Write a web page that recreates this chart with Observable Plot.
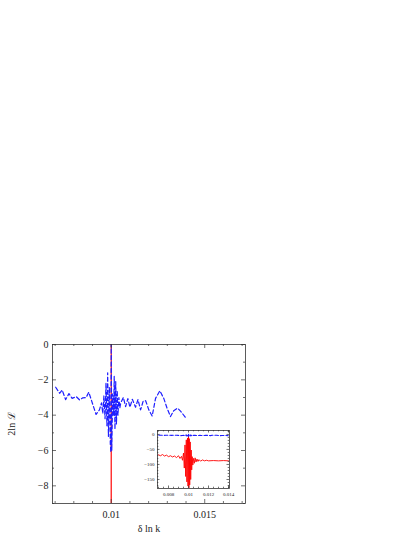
<!DOCTYPE html>
<html>
<head>
<meta charset="utf-8">
<script src="https://cdn.jsdelivr.net/npm/d3@7"></script>
<script src="https://cdn.jsdelivr.net/npm/@observablehq/plot@0.6"></script>
<style>
  html, body { margin: 0; padding: 0; background: #fff; }
  #c { position: relative; width: 415px; height: 537px; }
  #c svg { position: absolute; }
</style>
</head>
<body>
<div id="c"></div>
<script>
// ---- data ----
const blueX = [0.00703,0.00724,0.00738,0.00756,0.00774,0.00791,0.00813,0.00831,0.00848,0.00866,0.00880,0.00898,0.00919,0.00937,0.00948,
  0.00955,0.00961,0.00967,0.00972,0.00977,0.00981,0.00985,0.00990,0.00995,0.00998,0.01000,0.01003,0.01008,0.01013,0.01016,0.01020,0.01024,0.01028,0.01032,0.01036,0.01041,0.01046,
  0.01051,0.01065,0.01077,0.01089,0.01100,0.01113,0.01130,0.01143,0.01157,0.01171,0.01184,0.01201,0.01219,0.01237,0.01260,0.01281,0.01299,0.01317,0.01334,0.01355,0.01373,0.01396];
const blueY = [-2.42,-2.76,-2.58,-3.12,-2.78,-3.05,-2.95,-3.14,-3.02,-3.00,-2.70,-3.28,-3.96,-3.70,-3.30,
  -3.9,-2.9,-4.2,-2.2,-4.6,-1.6,-5.2,-2.4,-5.6,-6.1,0,-6.0,-2.8,-4.0,-1.8,-4.8,-2.1,-4.5,-2.6,-4.0,-3.0,-3.6,
  -3.30,-3.00,-3.52,-3.06,-3.55,-3.10,-3.55,-3.12,-3.70,-3.20,-3.18,-3.70,-4.05,-3.05,-2.62,-3.05,-3.62,-4.08,-3.75,-3.60,-3.80,-4.12];

const redX = [0.00700,0.00720,0.00740,0.00760,0.00780,0.00800,0.00820,0.00840,0.00860,0.00880,0.00900,0.00915,0.00930,0.00940,0.00950,
  0.00958,0.00965,0.00972,0.00978,0.00984,0.00990,0.00995,0.01000,0.01004,0.01008,0.01012,0.01017,0.01022,0.01027,0.01032,0.01037,0.01043,
  0.01050,0.01058,0.01066,0.01075,0.01085,0.01095,0.01105,0.01120,0.01140,0.01160,0.01180,0.01200,0.01250,0.01300,0.01350,0.01400];
const redY = [-68,-71,-67,-72,-69,-74,-71,-75,-72,-77,-71,-80,-73,-86,-62,
  -112,-35,-140,-18,-158,-12,-172,0,-178,-14,-168,-25,-150,-52,-118,-74,-102,
  -80,-96,-78,-92,-82,-90,-84,-89,-85,-88,-86,-88,-87,-88,-87,-88];

// tick values
const mainXMajor = [0.01, 0.015];
const mainXMinor = [0.007,0.008,0.009,0.011,0.012,0.013,0.014,0.016,0.017];
const mainYMajor = [-8,-6,-4,-2,0];
const mainYMinor = [-9,-7,-5,-3,-1];
const insetXMajor = [0.008,0.010,0.012,0.014];
const insetXMinor = [0.0070,0.0075,0.0085,0.0090,0.0095,0.0105,0.0110,0.0115,0.0125,0.0130,0.0135,0.0140];
const insetYMajor = [0,-50,-100,-150];
const insetYMinor = [10,-10,-20,-30,-40,-60,-70,-80,-90,-110,-120,-130,-140,-160,-170];
const mainXLabels = ["0.01","0.015"];
const insetXLabels = ["0.008","0.01","0.012","0.014"];

const blue = blueX.map((x,i)=>({x, y: blueY[i]}));
const red = redX.map((x,i)=>({x, y: redY[i]}));

function frameTicks(xMaj, xMin, yMaj, yMin, W, H, lMaj, lMin, col) {
  const o = {stroke: col, strokeWidth: 0.7};
  return [
    Plot.tickX(xMaj, {x: d=>d, insetTop: H-lMaj, ...o}),
    Plot.tickX(xMaj, {x: d=>d, insetBottom: H-lMaj, ...o}),
    Plot.tickX(xMin, {x: d=>d, insetTop: H-lMin, ...o}),
    Plot.tickX(xMin, {x: d=>d, insetBottom: H-lMin, ...o}),
    Plot.tickY(yMaj, {y: d=>d, insetRight: W-lMaj, ...o}),
    Plot.tickY(yMaj, {y: d=>d, insetLeft: W-lMaj, ...o}),
    Plot.tickY(yMin, {y: d=>d, insetRight: W-lMin, ...o}),
    Plot.tickY(yMin, {y: d=>d, insetLeft: W-lMin, ...o})
  ];
}

// ---- main chart ----
const mL = 52, mR = 170, mT = 344, mB = 34, mW = 415, mH = 537;
const main = Plot.plot({
  width: mW, height: mH,
  marginLeft: mL, marginRight: mR, marginTop: mT, marginBottom: mB,
  style: {fontFamily: "'Liberation Serif', 'DejaVu Serif', serif", fontSize: "10px", color: "#222", background: "transparent"},
  x: {domain: [0.00686, 0.01718]},
  y: {domain: [-9, 0]},
  marks: [
    Plot.line(red, {x: "x", y: "y", stroke: "#ff0000", strokeWidth: 1.1, clip: true}),
    Plot.line(blue, {x: "x", y: "y", stroke: "#1f1fff", strokeWidth: 1.2, strokeDasharray: "4,2.5", clip: true}),
    ...frameTicks(mainXMajor, mainXMinor, mainYMajor, mainYMinor, mW-mL-mR, mH-mT-mB, 4, 2, "#333"),
    Plot.frame({stroke: "#333", strokeWidth: 0.8}),
    Plot.axisX(mainXMajor, {tickSize: 0, tickPadding: 7, tickFormat: (d,i)=>mainXLabels[i], label: "δ ln k", labelAnchor: "center", labelArrow: "none", labelOffset: 28}),
    Plot.axisY(mainYMajor, {tickSize: 0, tickPadding: 4, label: "2ln ℒ", labelAnchor: "center", labelArrow: "none", labelOffset: 45})
  ]
});
main.style.left = "0px"; main.style.top = "0px";
document.getElementById("c").appendChild(main);

// ---- inset ----
const iL = 17, iR = 6, iT = 5, iB = 17, iW = 95, iH = 80;
const inset = Plot.plot({
  width: iW, height: iH,
  marginLeft: iL, marginRight: iR, marginTop: iT, marginBottom: iB,
  style: {fontFamily: "'Liberation Serif', 'DejaVu Serif', serif", fontSize: "5px", color: "#222", background: "transparent"},
  x: {domain: [0.0069, 0.0141]},
  y: {domain: [-180, 13]},
  marks: [
    Plot.frame({fill: "white", stroke: "none"}),
    Plot.line(red, {x: "x", y: "y", stroke: "#ff0000", strokeWidth: 0.9, clip: true}),
    Plot.line(blue, {x: "x", y: "y", stroke: "#1f1fff", strokeWidth: 1.1, strokeDasharray: "3.5,2", clip: true}),
    ...frameTicks(insetXMajor, insetXMinor, insetYMajor, insetYMinor, iW-iL-iR, iH-iT-iB, 2.5, 1.3, "#333"),
    Plot.frame({stroke: "#333", strokeWidth: 0.8}),
    Plot.axisX(insetXMajor, {tickSize: 0, tickPadding: 4, tickFormat: (d,i)=>insetXLabels[i], label: null}),
    Plot.axisY(insetYMajor, {tickSize: 0, tickPadding: 3, label: null})
  ]
});
inset.style.left = "140px"; inset.style.top = "425px";
document.getElementById("c").appendChild(inset);
</script>
</body>
</html>
